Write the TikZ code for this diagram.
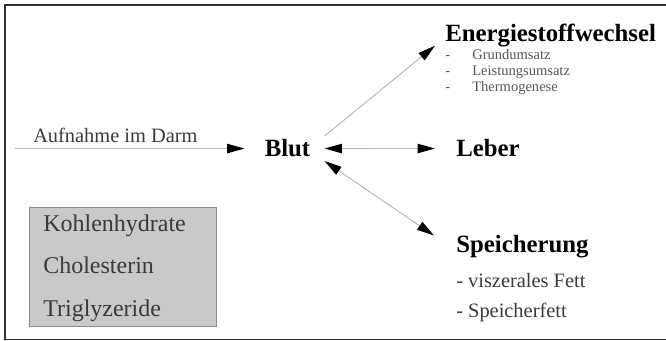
\documentclass[tikz,border=0pt]{standalone}
\usepackage{fontspec}
\setmainfont{Liberation Serif}
\usetikzlibrary{positioning,arrows.meta}

\definecolor{framegray}{HTML}{303030}
\definecolor{linegray}{HTML}{B4B4B4}
\definecolor{boxfill}{HTML}{C9C9C9}
\definecolor{boxline}{HTML}{8C8C8C}
\definecolor{textgray}{HTML}{3A3A3A}
\definecolor{subgray}{HTML}{555555}

\tikzset{
  >={Triangle[length=13pt,width=7pt,color=black]},
  link/.style={draw=linegray, line width=0.7pt},
  title/.style={font=\fontsize{18.6}{22}\selectfont\bfseries, inner sep=0pt, anchor=base west},
  plain/.style={font=\fontsize{15.3}{18}\selectfont, text=textgray, inner sep=0pt, anchor=base west},
  small/.style={font=\fontsize{10.9}{13}\selectfont, text=subgray, inner sep=0pt, anchor=base west},
  nutrient/.style={font=\fontsize{18}{22}\selectfont, text=textgray, inner sep=0pt, anchor=base west},
}

\begin{document}
\begin{tikzpicture}[x=0.75pt, y=-0.75pt]
  \useasboundingbox (0,0) rectangle (666,341);
  \draw[framegray, line width=1pt] (667,5) -- (5,5) -- (5,339.5) -- (667,339.5);

  % nutrients
  \node[draw=boxline, fill=boxfill, line width=0.6pt, inner sep=0pt,
        minimum width=140.25pt, minimum height=89.25pt, anchor=north west] (box) at (29,207) {};
  \foreach \t [count=\i] in {Kohlenhydrate,Cholesterin,Triglyzeride}
    \node[nutrient] (nut\i) at (43,190+42*\i) {\t};

  % intake
  \node[plain] (darm) at (33,143) {Aufnahme im Darm};
  \coordinate (in) at (15,148);
  \node[title, anchor=base, inner xsep=10.5pt, inner ysep=2.6pt] (blut) at (287.5,157) {Blut};

  % targets
  \node[title] (energie) at (445,42) {Energiestoffwechsel};
  \foreach \t [count=\i] in {Grundumsatz,Leistungsumsatz,Thermogenese}
    \node[small] (sub\i) at (445,44+16*\i) {\makebox[20.25pt][l]{-}\t};
  \node[title] (leber) at (456,157) {Leber};
  \node[title] (speicher) at (456,253) {Speicherung};
  \node[plain] (fett1) at (456,288) {- viszerales Fett};
  \node[plain] (fett2) at (456,317) {- Speicherfett};

  % connectors
  \draw[link, ->, shorten >=4.5pt] (in |- blut.west) -- (blut.west);
  \draw[link, ->] (blut.north east) -- ([shift={(-10,-2)}]energie.south west);
  \draw[link, <->, shorten >=15.75pt] (blut.east) -- (leber.west);
  \draw[link, <->] (blut.south east) -- ([shift={(-22,0)}]speicher.north west);
\end{tikzpicture}
\end{document}
